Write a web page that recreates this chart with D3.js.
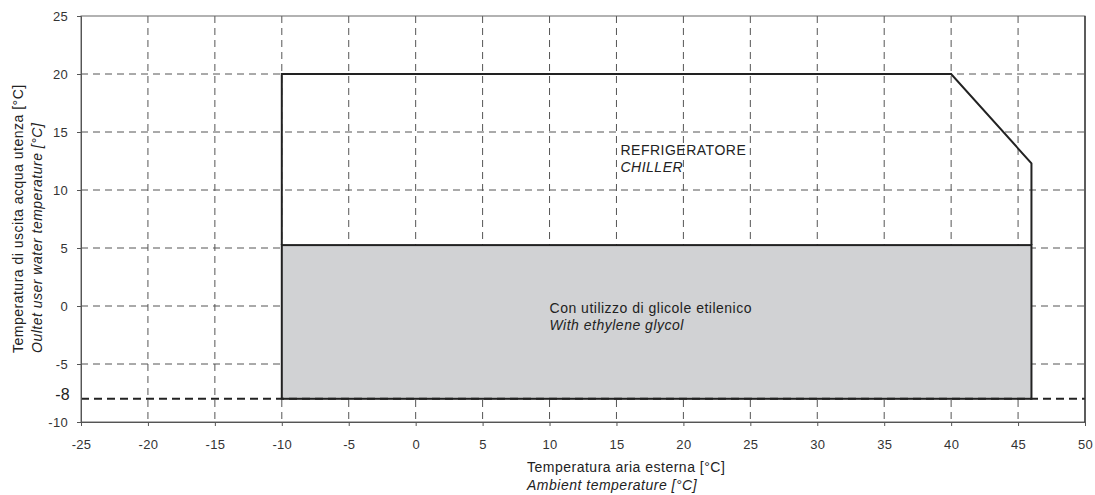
<!DOCTYPE html>
<html>
<head>
<meta charset="utf-8">
<script src="https://cdn.jsdelivr.net/npm/d3@7"></script>
<style>
  body { margin: 0; background: #fff; }
  svg text { font-family: "Liberation Sans", Arial, sans-serif; fill: #222; letter-spacing: 0.5px; }
  .tick text { font-size: 13px; fill: #333; letter-spacing: 0.3px; }
</style>
</head>
<body>
<svg id="chart" width="1095" height="495"></svg>
<script>
// domain / ticks
const xTicks = [-25, -20, -15, -10, -5, 0, 5, 10, 15, 20, 25, 30, 35, 40, 45, 50]
const yTicks = [-10, -5, 0, 5, 10, 15, 20, 25]
const minWaterTemp = -8

// chiller envelope (ambient, water)
const chillerEnvelope = [[-10, 5.25], [-10, 20], [40, 20], [46, 12.3], [46, 5.25]]
// glycol area
const glycolArea = { x0: -10, x1: 46, y0: -8, y1: 5.25 }

const labels = [
  { x: 15.3, y: 13.0, lines: ['REFRIGERATORE', 'CHILLER'] },
  { x: 10, y: -0.58, lines: ['Con utilizzo di glicole etilenico', 'With ethylene glycol'] },
]

const margin = { top: 16, right: 10, bottom: 73, left: 81 }
const width = 1095 - margin.left - margin.right
const height = 495 - margin.top - margin.bottom

const svg = d3.select('#chart')
const chart = svg.append('g').attr('transform', `translate(${margin.left},${margin.top})`)

const x = d3.scaleLinear().domain([-25, 50]).range([0, width])
const y = d3.scaleLinear().domain([-10, 25]).range([height, 0])

// GRID
chart.selectAll('line.vgrid')
  .data(xTicks.filter(d => d > -25 && d < 50))
  .join('line')
  .attr('class', 'vgrid')
  .attr('x1', d => x(d)).attr('x2', d => x(d))
  .attr('y1', 0).attr('y2', height)
  .attr('stroke', '#555').attr('stroke-width', 1)
  .attr('stroke-dasharray', '7,5')

chart.selectAll('line.hgrid')
  .data(yTicks.filter(d => d > -10 && d < 25))
  .join('line')
  .attr('class', 'hgrid')
  .attr('x1', 0).attr('x2', width)
  .attr('y1', d => y(d)).attr('y2', d => y(d))
  .attr('stroke', '#555').attr('stroke-width', 1)
  .attr('stroke-dasharray', '7,5')

// GLYCOL AREA
chart.append('rect')
  .attr('x', x(glycolArea.x0))
  .attr('y', y(glycolArea.y1))
  .attr('width', x(glycolArea.x1) - x(glycolArea.x0))
  .attr('height', y(glycolArea.y0) - y(glycolArea.y1))
  .attr('fill', '#d1d2d4')
  .attr('stroke', '#222')
  .attr('stroke-width', 2)

// CHILLER ENVELOPE
chart.append('path')
  .attr('d', d3.line().x(d => x(d[0])).y(d => y(d[1]))(chillerEnvelope))
  .attr('fill', 'none')
  .attr('stroke', '#222')
  .attr('stroke-width', 2)

// -8 line
chart.append('line')
  .attr('x1', 0).attr('x2', width)
  .attr('y1', y(minWaterTemp)).attr('y2', y(minWaterTemp))
  .attr('stroke', '#222').attr('stroke-width', 2)
  .attr('stroke-dasharray', '8,5')

// FRAME
chart.append('rect')
  .attr('x', 0).attr('y', 0).attr('width', width).attr('height', height)
  .attr('fill', 'none').attr('stroke', '#666').attr('stroke-width', 1)
chart.append('line')
  .attr('x1', width).attr('x2', width).attr('y1', 0).attr('y2', height)
  .attr('stroke', '#222').attr('stroke-width', 1.2)

// AXES
const xAxis = chart.append('g')
  .attr('transform', `translate(0,${height})`)
  .call(d3.axisBottom(x).tickValues(xTicks).tickSize(4).tickPadding(14).tickFormat(d => String(d)))
xAxis.select('.domain').attr('stroke', '#555')
xAxis.selectAll('.tick line').attr('stroke', '#555')

const yAxis = chart.append('g')
  .call(d3.axisLeft(y).tickValues(yTicks).tickSize(4).tickPadding(9).tickFormat(d => String(d)))
yAxis.select('.domain').attr('stroke', '#555')
yAxis.selectAll('.tick line').attr('stroke', '#555')

chart.append('text')
  .attr('x', -11).attr('y', y(minWaterTemp) + 1)
  .attr('text-anchor', 'end')
  .style('font-size', '16px')
  .style('letter-spacing', '0.3px')
  .text(minWaterTemp)

// REGION LABELS
labels.forEach(l => {
  const t = chart.append('text')
    .attr('x', x(l.x)).attr('y', y(l.y))
    .style('font-size', '14px')
  l.lines.forEach((s, i) => {
    t.append('tspan')
      .attr('x', x(l.x))
      .attr('dy', i === 0 ? 0 : 17)
      .style('font-style', i === 1 ? 'italic' : 'normal')
      .text(s)
  })
})

// AXIS TITLES
const xt = svg.append('text').attr('x', 527).attr('y', 472).style('font-size', '14px')
xt.append('tspan').attr('x', 527).text('Temperatura aria esterna [°C]')
xt.append('tspan').attr('x', 527).attr('dy', 18).style('font-style', 'italic').text('Ambient temperature [°C]')

const yt = svg.append('text')
  .attr('transform', 'translate(23,353) rotate(-90)')
  .style('font-size', '14px')
yt.append('tspan').attr('x', 0).text('Temperatura di uscita acqua utenza [°C]')
yt.append('tspan').attr('x', 0).attr('dy', 19).style('font-style', 'italic').text('Oultet user water temperature [°C]')
</script>
</body>
</html>
